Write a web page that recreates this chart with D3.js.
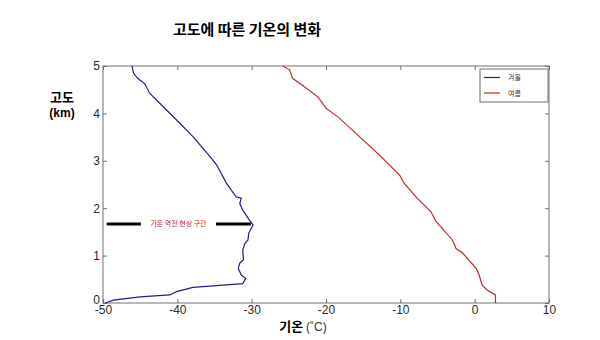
<!DOCTYPE html>
<html>
<head>
<meta charset="utf-8">
<script src="https://cdn.jsdelivr.net/npm/d3@7"></script>
<style>
  body { margin: 0; background: #fff; }
  text { font-family: "Liberation Sans", Arial, sans-serif; }
  .kr { font-family: "Noto Sans CJK KR", sans-serif; }
</style>
</head>
<body>
<svg id="chart"></svg>
<script>
// 겨울 (winter) profile: temperature (°C), altitude (km)
var winterTemp = [-49.7, -48.6, -45.0, -41.0, -40.1, -37.9, -35.2, -31.2, -30.8, -31.4, -31.8, -31.6, -31.1, -31.2, -30.9, -30.5, -30.4, -29.8, -30.3, -31.2, -31.6, -31.4, -32.1, -33.4, -34.7, -35.6, -37.9, -40.1, -41.9, -43.7, -44.4, -45.0, -45.5, -45.9, -46.1];
var winterAlt  = [0.0, 0.06, 0.13, 0.17, 0.24, 0.33, 0.36, 0.41, 0.52, 0.59, 0.73, 0.84, 0.91, 1.12, 1.26, 1.33, 1.47, 1.65, 1.75, 1.96, 2.10, 2.21, 2.24, 2.53, 2.91, 3.09, 3.51, 3.86, 4.14, 4.42, 4.63, 4.70, 4.77, 4.85, 5.0];

// 여름 (summer) profile
var summerTemp = [2.8, 2.8, 2.8, 1.7, 1.0, 0.6, 0.2, -1.6, -2.5, -3.0, -5.2, -5.9, -7.9, -9.5, -10.1, -12.8, -15.5, -18.2, -20.0, -21.1, -22.9, -24.5, -24.9, -25.8];
var summerAlt  = [0.0, 0.10, 0.17, 0.27, 0.38, 0.59, 0.73, 1.05, 1.15, 1.33, 1.72, 1.93, 2.24, 2.53, 2.70, 3.12, 3.51, 3.90, 4.11, 4.35, 4.56, 4.74, 4.92, 5.0];

var xTicks = [-50, -40, -30, -20, -10, 0, 10];
var yTicks = [0, 1, 2, 3, 4, 5];
var seriesNames = ['겨울', '여름'];
var seriesColors = ['#1c1f86', '#c0282d'];

// inversion layer annotation
var inversionAlt = 1.667;
var inversionLeft = [-49.5, -44.9];
var inversionRight = [-34.8, -30.1];
var inversionLabel = '기온 역전 현상 구간';

function main() {
    const width = 600, height = 340;
    const left = 103, right = 549, top = 66, bottom = 303;

    const svg = d3.select('#chart')
        .attr('width', width)
        .attr('height', height);

    const x = d3.scaleLinear().domain([-50, 10]).range([left, right]);
    const y = d3.scaleLinear().domain([0, 5]).range([bottom, top]);

    // box
    svg.append('rect')
        .attr('x', left).attr('y', top)
        .attr('width', right - left).attr('height', bottom - top)
        .attr('fill', 'none').attr('stroke', '#6e6e6e').attr('stroke-width', 1);

    // axes (MATLAB style inward ticks)
    const axisStyle = g => {
        g.select('.domain').remove();
        g.selectAll('.tick line').attr('stroke', '#6e6e6e');
        g.selectAll('.tick text').attr('fill', '#2a2a2a').style('font-size', '12px');
    };
    const plain = d => String(d);

    svg.append('g').attr('transform', `translate(0,${bottom})`)
        .call(d3.axisBottom(x).tickValues(xTicks).tickSizeInner(-4).tickPadding(2).tickFormat(plain))
        .call(axisStyle);
    svg.append('g').attr('transform', `translate(0,${top})`)
        .call(d3.axisTop(x).tickValues(xTicks).tickSizeInner(-4).tickFormat(''))
        .call(axisStyle);
    svg.append('g').attr('transform', `translate(${left},0)`)
        .call(d3.axisLeft(y).tickValues(yTicks).tickSizeInner(-4).tickPadding(3).tickFormat(plain))
        .call(axisStyle)
        .selectAll('.tick text')
        .filter(d => d === 0)
        .attr('dy', '0.05em');
    svg.append('g').attr('transform', `translate(${right},0)`)
        .call(d3.axisRight(y).tickValues(yTicks).tickSizeInner(-4).tickFormat(''))
        .call(axisStyle);

    // lines
    const line = d3.line().x(d => x(d[0])).y(d => y(d[1]));
    const series = [
        d3.zip(winterTemp, winterAlt),
        d3.zip(summerTemp, summerAlt)
    ];
    series.forEach(function(s, i) {
        svg.append('path')
            .datum(s)
            .attr('d', line)
            .attr('fill', 'none')
            .attr('stroke', seriesColors[i])
            .attr('stroke-width', 1.2);
    });

    // inversion annotation
    [inversionLeft, inversionRight].forEach(function(seg) {
        svg.append('line')
            .attr('x1', x(seg[0])).attr('x2', x(seg[1]))
            .attr('y1', y(inversionAlt)).attr('y2', y(inversionAlt))
            .attr('stroke', '#000').attr('stroke-width', 3);
    });
    svg.append('text')
        .attr('class', 'kr')
        .attr('x', x((inversionLeft[1] + inversionRight[0]) / 2))
        .attr('y', y(inversionAlt) + 2.5)
        .attr('text-anchor', 'middle')
        .attr('fill', '#c0282d')
        .style('font-size', '7px')
        .text(inversionLabel);

    // legend
    const legend = svg.append('g').attr('transform', 'translate(480,69)');
    legend.append('rect')
        .attr('width', 68).attr('height', 33)
        .attr('fill', '#fff').attr('stroke', '#6e6e6e');
    seriesNames.forEach(function(name, i) {
        legend.append('line')
            .attr('x1', 4).attr('x2', 20)
            .attr('y1', 8.5 + i * 15.5).attr('y2', 8.5 + i * 15.5)
            .attr('stroke', seriesColors[i]).attr('stroke-width', 1.2);
        legend.append('text')
            .attr('class', 'kr')
            .attr('x', 28).attr('y', 11 + i * 15.5)
            .style('font-size', '7px')
            .attr('fill', '#333')
            .text(name);
    });

    // title
    svg.append('text')
        .attr('class', 'kr')
        .attr('x', 247).attr('y', 35)
        .attr('text-anchor', 'middle')
        .style('font-size', '15px').style('font-weight', 'bold')
        .text('고도에 따른 기온의 변화');

    // y label
    svg.append('text')
        .attr('class', 'kr')
        .attr('x', 62).attr('y', 102)
        .attr('text-anchor', 'middle')
        .style('font-size', '13px').style('font-weight', 'bold')
        .text('고도');
    svg.append('text')
        .attr('x', 62).attr('y', 117)
        .attr('text-anchor', 'middle')
        .style('font-size', '12px').style('font-weight', 'bold')
        .text('(km)');

    // x label
    const xl = svg.append('text')
        .attr('x', 303).attr('y', 331)
        .attr('text-anchor', 'middle');
    xl.append('tspan').attr('class', 'kr')
        .style('font-size', '13px').style('font-weight', 'bold')
        .text('기온 ');
    xl.append('tspan')
        .style('font-size', '12px').attr('fill', '#333')
        .text('(˚C)');
}
main();
</script>
</body>
</html>
